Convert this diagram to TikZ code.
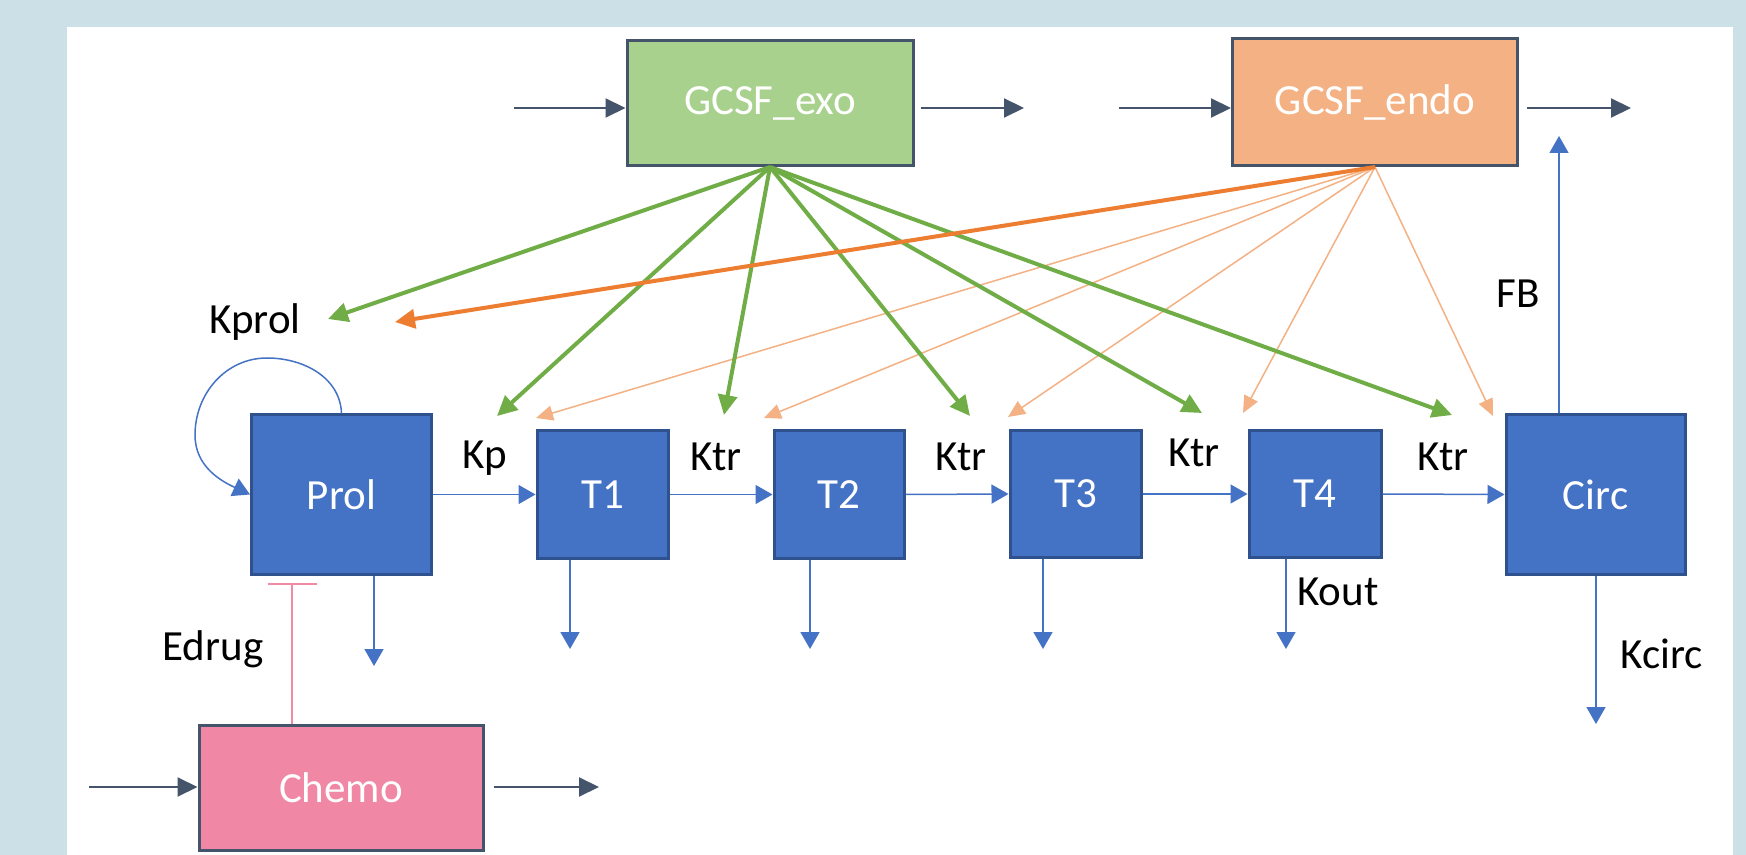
\documentclass[tikz,border=0pt]{standalone}
\usepackage{fontspec}
\setmainfont{Carlito}
\usetikzlibrary{arrows.meta}
\definecolor{bgblue}{HTML}{CCE0E8}
\definecolor{boxblue}{HTML}{4472C4}
\definecolor{boxedge}{HTML}{2F528F}
\definecolor{slate}{HTML}{44546A}
\definecolor{gfill}{HTML}{A9D18E}
\definecolor{garrow}{HTML}{70AD47}
\definecolor{ofill}{HTML}{F4B183}
\definecolor{oarrow}{HTML}{ED7D31}
\definecolor{pfill}{HTML}{F087A4}
\definecolor{pline}{HTML}{F28AA6}
\begin{document}
\begin{tikzpicture}[x=0.5pt,y=0.5pt,
  txt/.style={font=\fontsize{21.5pt}{26pt}\selectfont},
  bluebox/.style={draw=boxedge, fill=boxblue, line width=1.5pt, inner sep=0pt, text=white, txt},
  srcbox/.style={draw=slate, fill=#1, line width=1.5pt, inner sep=0pt, text=white, txt},
  lbl/.style={txt, text=black, inner sep=0pt},
  flow/.style={draw=boxblue, line width=0.75pt, -{Triangle[length=8.5pt,width=9.5pt]}},
  io/.style={draw=slate, line width=1pt, -{Triangle[length=10pt,width=9.5pt]}},
  garr/.style={draw=garrow, line width=2pt, -{Triangle[length=10pt,width=9.5pt]}},
  oarrthick/.style={draw=oarrow, line width=2pt, -{Triangle[length=10pt,width=9.5pt]}},
  oarrthin/.style={draw=ofill, line width=0.75pt, -{Triangle[length=8.5pt,width=7.5pt]}},
  inhib/.style={draw=pline, line width=1pt, -{Bar[width=24.5pt,line width=1pt]}}
]
\useasboundingbox (0,0) rectangle (1746,-855);
\fill[bgblue] (0,0) rectangle (1746,-855);
\fill[white] (67,-27) rectangle (1733,-855);

% boxes
\node[srcbox=gfill, minimum width=143pt, minimum height=62.5pt] (exo) at (770,-103) {GCSF\_exo};
\node[srcbox=ofill, minimum width=142.5pt, minimum height=63.5pt] (endo) at (1375,-102) {GCSF\_endo};
\node[bluebox, minimum width=90pt, minimum height=79.5pt] (prol) at (341.5,-494.5) {Prol};
\node[bluebox, minimum width=65.5pt, minimum height=63.5pt] (t1) at (602.5,-494.5) {T1};
\node[bluebox, minimum width=65pt, minimum height=63.5pt] (t2) at (839,-494.5) {T2};
\node[bluebox, minimum width=65.5pt, minimum height=63pt] (t3) at (1075.5,-494) {T3};
\node[bluebox, minimum width=66pt, minimum height=63pt] (t4) at (1315,-494) {T4};
\node[bluebox, minimum width=89.5pt, minimum height=79.5pt] (circ) at (1595.5,-494.5) {Circ};
\node[srcbox=pfill, minimum width=142pt, minimum height=62.5pt] (chemo) at (341,-787.5) {Chemo};

% labels
\node[lbl] (kprol) at (255,-322) {Kprol};
\node[lbl] (kp) at (485,-458) {Kp};
\node[lbl] (ktr1) at (716,-457) {Ktr};
\node[lbl] (ktr2) at (961,-457) {Ktr};
\node[lbl] (ktr3) at (1194,-453) {Ktr};
\node[lbl] (ktr4) at (1443,-457) {Ktr};
\node[lbl] (fb) at (1518,-294) {FB};
\node[lbl] (edrug) at (213,-649) {Edrug};
\node[lbl] (kout) at (1338,-592) {Kout};
\node[lbl] (kcirc) at (1662,-654) {Kcirc};

% input / output coordinates
\coordinate (exoin) at (514,-108);
\coordinate (exoout) at (1024,-108);
\coordinate (endoin) at (1119,-108);
\coordinate (endoout) at (1631,-108);
\coordinate (chemoin) at (89,-787);
\coordinate (chemoout) at (599,-787);
\draw[io] (exoin) -- (exoin -| exo.west);
\draw[io] (exoout -| exo.east) ++(6,0) -- (exoout);
\draw[io] (endoin) -- (endoin -| endo.west);
\draw[io] (endoout -| endo.east) ++(8,0) -- (endoout);
\draw[io] (chemoin) -- (chemoin -| chemo.west);
\draw[io] (chemoout -| chemo.east) ++(9,0) -- (chemoout);

% chain
\draw[flow] (prol.east) -- (t1.west);
\draw[flow] (t1.east) -- (t2.west);
\draw[flow] (t2.east) -- (t3.west);
\draw[flow] (t3.east) -- (t4.west);
\draw[flow] (t4.east) -- (circ.west);

% self loop
\draw[flow] (prol.north) to[out=92,in=0] (267,-358) to[out=180,in=90] (195,-435) to[out=-90,in=155] (prol.west);

% outflows
\coordinate (oprol) at (374,-666);
\coordinate (ot1) at (570,-649);
\coordinate (ot2) at (810,-649);
\coordinate (ot3) at (1043,-649);
\coordinate (ot4) at (1286,-649);
\coordinate (ocirc) at (1596,-724);
\coordinate (ofb) at (1559,-136);
\draw[flow] (oprol |- prol.south) -- (oprol);
\draw[flow] (ot1 |- t1.south) -- (ot1);
\draw[flow] (ot2 |- t2.south) -- (ot2);
\draw[flow] (ot3 |- t3.south) -- (ot3);
\draw[flow] (ot4 |- t4.south) -- (ot4);
\draw[flow] (ocirc |- circ.south) -- (ocirc);
\draw[flow] (ofb |- circ.north) -- (ofb);

% inhibition
\coordinate (inh) at (292,-583);
\draw[inhib] (inh |- chemo.north) -- (inh);

% GCSF effects
\coordinate (g1) at (328,-319);
\coordinate (g2) at (497,-416);
\coordinate (g3) at (724,-415);
\coordinate (g4) at (970,-416);
\coordinate (g5) at (1202,-413);
\coordinate (g6) at (1452,-415);
\coordinate (o0) at (395,-322);
\coordinate (o1) at (536,-418);
\coordinate (o2) at (764,-418);
\coordinate (o3) at (1008,-417);
\coordinate (o4) at (1243,-413);
\coordinate (o5) at (1493,-416);
\foreach \t in {o1,o2,o3,o4,o5} \draw[oarrthin] (endo.south) -- (\t);
\foreach \t in {g1,g2,g3,g4,g5,g6} \draw[garr] (exo.south) -- (\t);
\draw[oarrthick] (endo.south) -- (o0);
\end{tikzpicture}
\end{document}
